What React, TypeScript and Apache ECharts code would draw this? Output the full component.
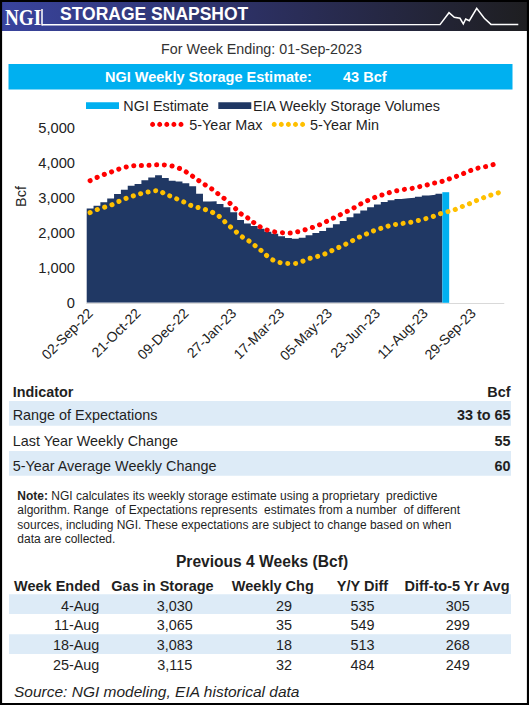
import React, { useEffect, useRef } from "react";
import * as echarts from "echarts";

const FONT = "Liberation Sans, Arial, Helvetica, sans-serif";
const SERIF = "Liberation Serif, Times New Roman, serif";

const categories = [
  "02-Sep-22", "09-Sep-22", "16-Sep-22", "23-Sep-22", "30-Sep-22", "07-Oct-22", "14-Oct-22",
  "21-Oct-22", "28-Oct-22", "04-Nov-22", "11-Nov-22", "18-Nov-22", "25-Nov-22", "02-Dec-22",
  "09-Dec-22", "16-Dec-22", "23-Dec-22", "30-Dec-22", "06-Jan-23", "13-Jan-23", "20-Jan-23",
  "27-Jan-23", "03-Feb-23", "10-Feb-23", "17-Feb-23", "24-Feb-23", "03-Mar-23", "10-Mar-23",
  "17-Mar-23", "24-Mar-23", "31-Mar-23", "07-Apr-23", "14-Apr-23", "21-Apr-23", "28-Apr-23",
  "05-May-23", "12-May-23", "19-May-23", "26-May-23", "02-Jun-23", "09-Jun-23", "16-Jun-23",
  "23-Jun-23", "30-Jun-23", "07-Jul-23", "14-Jul-23", "21-Jul-23", "28-Jul-23", "04-Aug-23",
  "11-Aug-23", "18-Aug-23", "25-Aug-23", "01-Sep-23", "08-Sep-23", "15-Sep-23", "22-Sep-23",
  "29-Sep-23", "06-Oct-23", "13-Oct-23", "20-Oct-23", "27-Oct-23",
];

const eiaStorage = [
  2694, 2771, 2874, 2977, 3106, 3231, 3342, 3394, 3501, 3580, 3644, 3564, 3483, 3462, 3412, 3325,
  3112, 2891, 2902, 2820, 2729, 2583, 2366, 2266, 2195, 2114, 2030, 1972, 1900, 1853, 1830, 1855,
  1930, 1994, 2048, 2141, 2240, 2336, 2446, 2550, 2634, 2729, 2805, 2877, 2926, 2967, 2983, 3001,
  3030, 3065, 3083, 3115,
];

const ngiEstimateWeek = "01-Sep-23";
const ngiEstimateValue = 3158;

const fiveYearMax = [
  3487, 3580, 3660, 3730, 3805, 3865, 3905, 3923, 3923, 3930, 3943, 3935, 3905, 3843, 3742, 3612,
  3475, 3346, 3223, 3067, 2920, 2738, 2550, 2430, 2280, 2155, 2070, 2025, 2005, 1990, 2015, 2062,
  2120, 2185, 2268, 2366, 2461, 2557, 2651, 2757, 2870, 2954, 3040, 3097, 3160, 3205, 3240, 3265,
  3310, 3351, 3410, 3440, 3505, 3570, 3645, 3725, 3805, 3860, 3895, 3948, 3990,
];

const fiveYearMin = [
  2576, 2660, 2722, 2785, 2877, 2963, 3033, 3094, 3144, 3185, 3205, 3095, 3031, 2935, 2855, 2760,
  2710, 2650, 2570, 2450, 2255, 2090, 1915, 1795, 1650, 1495, 1320, 1195, 1140, 1123, 1125, 1183,
  1262, 1310, 1370, 1460, 1550, 1640, 1735, 1845, 1930, 2020, 2095, 2155, 2214, 2248, 2275, 2305,
  2350, 2400, 2455, 2530, 2590, 2635, 2720, 2790, 2880, 2960, 3035, 3100, 3160,
];

const indicatorRows = [
  ["Range of Expectations", "33 to 65"],
  ["Last Year Weekly Change", "55"],
  ["5-Year Average Weekly Change", "60"],
];

const noteLines = [
  "{b|Note:} NGI calculates its weekly storage estimate using a proprietary  predictive",
  "algorithm. Range  of Expectations represents  estimates from a number  of different",
  "sources, including NGI. These expectations are subject to change based on when",
  "data are collected.",
];

const prevHeaders = ["Week Ended", "Gas in Storage", "Weekly Chg", "Y/Y Diff", "Diff-to-5 Yr Avg"];
const weekEnded = ["4-Aug", "11-Aug", "18-Aug", "25-Aug"];
const gasInStorage = ["3,030", "3,065", "3,083", "3,115"];
const weeklyChg = ["29", "35", "18", "32"];
const yyDiff = ["535", "549", "513", "484"];
const diffTo5Yr = ["305", "299", "268", "249"];

function txt(x: number, y: number, text: string, o: any = {}) {
  const align = o.align || "left";
  return {
    type: "text",
    x,
    y,
    silent: true,
    z: 100,
    scaleX: o.scaleX || 1,
    rotation: o.rotation || 0,
    style: {
      text,
      fill: o.fill || "#1f1f1f",
      fontSize: o.fontSize || 14.4,
      fontWeight: o.fontWeight || "normal",
      fontStyle: o.fontStyle || "normal",
      fontFamily: o.fontFamily || FONT,
      align,
      textAlign: align,
      verticalAlign: "middle",
      textVerticalAlign: "middle",
      rich: o.rich,
    },
  };
}

function rect(x: number, y: number, w: number, h: number, fill: any) {
  return { type: "rect", silent: true, z: 90, shape: { x, y, width: w, height: h }, style: { fill } };
}

export default function App() {
  const ref = useRef<HTMLDivElement>(null);

  useEffect(() => {
    if (!ref.current) return;
    const chart = echarts.init(ref.current, null, { renderer: "svg" });

    // EIA weekly volumes: contiguous columns, each spanning its week's band [i, i+1]
    const eiaSteps: number[][] = eiaStorage.map((v, i) => [i, v]);
    eiaSteps.push([eiaStorage.length, eiaStorage[eiaStorage.length - 1]]);
    const ngiData = categories.map((c) => (c === ngiEstimateWeek ? ngiEstimateValue : "-"));

    const graphics: any[] = [];
    // header
    graphics.push(
      rect(0, 0, 529, 31, {
        type: "linear",
        x: 0,
        y: 0,
        x2: 1,
        y2: 0,
        colorStops: [
          { offset: 0, color: "#39449E" },
          { offset: 0.45, color: "#2D3166" },
          { offset: 1, color: "#1E1E20" },
        ],
      })
    );
    graphics.push(txt(5, 17.5, "NGI", { fill: "#fff", fontSize: 24, fontWeight: "bold", fontFamily: SERIF, scaleX: 0.8 }));
    graphics.push({
      type: "line",
      silent: true,
      z: 100,
      shape: { x1: 42, y1: 9, x2: 42, y2: 25.5 },
      style: { stroke: "#fff", lineWidth: 1.5 },
    });
    graphics.push({
      type: "polyline",
      silent: true,
      z: 100,
      shape: {
        points: [
          [42, 24.8], [440, 24.6], [449, 12.7], [454.3, 17.3], [460, 18.3], [463.3, 24],
          [465.7, 19], [469.3, 20.7], [476.7, 8.3], [484.3, 18.3], [491, 24.4], [518.3, 24.4],
        ],
      },
      style: { stroke: "#fff", lineWidth: 1.5, fill: null },
    });
    graphics.push(txt(60, 14.2, "STORAGE SNAPSHOT", { fill: "#fff", fontSize: 17.5, fontWeight: "bold" }));

    graphics.push(txt(261.5, 49, "For Week Ending: 01-Sep-2023", { align: "center", fontSize: 14.3, fill: "#333" }));
    graphics.push(rect(8.5, 64, 504, 25.5, "#00B0F0"));
    graphics.push(txt(105, 76.5, "NGI Weekly Storage Estimate:", { fill: "#fff", fontSize: 14.5, fontWeight: "bold" }));
    graphics.push(txt(343, 76.5, "43 Bcf", { fill: "#fff", fontSize: 14.5, fontWeight: "bold" }));

    // legend
    graphics.push(rect(86, 102.3, 33, 6.8, "#00B0F0"));
    graphics.push(txt(123.3, 105.6, "NGI Estimate"));
    graphics.push(rect(218.3, 102.3, 33, 6.8, "#203864"));
    graphics.push(txt(253, 105.6, "EIA Weekly Storage Volumes"));
    for (let k = 0; k < 5; k++) {
      graphics.push({ type: "circle", silent: true, z: 100, shape: { cx: 152.6 + 7.1 * k, cy: 124.4, r: 2.5 }, style: { fill: "#FF0000" } });
      graphics.push({ type: "circle", silent: true, z: 100, shape: { cx: 274.2 + 7.1 * k, cy: 124.4, r: 2.5 }, style: { fill: "#FFC000" } });
    }
    graphics.push(txt(189.3, 124.6, "5-Year Max"));
    graphics.push(txt(310, 124.6, "5-Year Min"));

    // y-axis title
    graphics.push(txt(20.5, 196.5, "Bcf", { align: "center", rotation: Math.PI / 2 }));

    // indicator table
    graphics.push(txt(12.7, 391.5, "Indicator", { fontWeight: "bold" }));
    graphics.push(txt(510.5, 391.5, "Bcf", { fontWeight: "bold", align: "right" }));
    const indY = [415.3, 440.7, 466];
    graphics.push(rect(9, 401, 502, 24.7, "#DDEBF7"));
    graphics.push(rect(9, 451, 502, 24.7, "#DDEBF7"));
    indicatorRows.forEach((r, i) => {
      graphics.push(txt(12.7, indY[i], r[0]));
      graphics.push(txt(510.5, indY[i], r[1], { fontWeight: "bold", align: "right" }));
    });

    // note
    const noteY = [495.7, 510.2, 524.6, 539.3];
    noteLines.forEach((l, i) => {
      graphics.push(txt(17.3, noteY[i], l, { fontSize: 12, rich: { b: { fontWeight: "bold", fontSize: 12, fontFamily: FONT, fill: "#1f1f1f" } } }));
    });

    // previous 4 weeks
    graphics.push(txt(262, 561.8, "Previous 4 Weeks (Bcf)", { align: "center", fontSize: 15.6, fontWeight: "bold" }));
    const hdrX = [100, 162.5, 272.8, 362.5, 457];
    const hdrAlign = ["right", "center", "center", "center", "center"];
    prevHeaders.forEach((h, i) => {
      graphics.push(txt(hdrX[i], 586, h, { fontWeight: "bold", fontSize: 14.5, align: hdrAlign[i] }));
    });
    graphics.push(rect(9, 594.3, 502, 19.7, "#DDEBF7"));
    graphics.push(rect(9, 634.3, 502, 19.7, "#DDEBF7"));
    const rowY = [605.5, 625.2, 645.2, 664.6];
    const colX = [99.3, 174.7, 284, 362.5, 457.7];
    weekEnded.forEach((w, i) => {
      graphics.push(txt(colX[0], rowY[i], w, { align: "right" }));
      graphics.push(txt(colX[1], rowY[i], gasInStorage[i], { align: "center" }));
      graphics.push(txt(colX[2], rowY[i], weeklyChg[i], { align: "center" }));
      graphics.push(txt(colX[3], rowY[i], yyDiff[i], { align: "center" }));
      graphics.push(txt(colX[4], rowY[i], diffTo5Yr[i], { align: "center" }));
    });
    graphics.push(txt(14, 691.5, "Source: NGI modeling, EIA historical data", { fontSize: 15.5, fontStyle: "italic" }));

    // outer border
    graphics.push({
      type: "rect",
      silent: true,
      z: 120,
      shape: { x: 1, y: 1, width: 527, height: 703 },
      style: { fill: null, stroke: "#000", lineWidth: 2.2 },
    });

    const option: any = {
      animation: false,
      backgroundColor: "#ffffff",
      grid: { left: 86.7, right: 25.1, top: 127.7, bottom: 402.2, containLabel: false, outerBoundsMode: "none" },
      xAxis: [
        {
          type: "category",
          data: categories,
          boundaryGap: true,
          axisTick: { show: false },
          axisLine: { show: true, lineStyle: { color: "#D9D9D9", width: 1 } },
          axisLabel: {
            interval: 6,
            rotate: 45,
            margin: 8,
            fontSize: 14,
            color: "#222",
            fontFamily: FONT,
          },
          splitLine: { show: false },
          z: 3,
        },
        {
          type: "value",
          min: 0,
          max: categories.length,
          show: false,
          splitLine: { show: false },
        },
      ],
      yAxis: {
        type: "value",
        min: 0,
        max: 5000,
        interval: 1000,
        axisLine: { show: false },
        axisTick: { show: false },
        splitLine: { show: false },
        axisLabel: {
          margin: 11.7,
          fontSize: 14.7,
          color: "#222",
          fontFamily: FONT,
          formatter: (v: number) => v.toLocaleString("en-US"),
        },
      },
      series: [
        {
          name: "EIA Weekly Storage Volumes",
          type: "line",
          xAxisIndex: 1,
          step: "end",
          data: eiaSteps,
          symbol: "none",
          showSymbol: false,
          silent: true,
          z: 2,
          lineStyle: { width: 0, opacity: 0 },
          areaStyle: { color: "#203864", opacity: 1 },
        },
        {
          name: "NGI Estimate",
          type: "bar",
          xAxisIndex: 0,
          data: ngiData,
          barCategoryGap: "0%",
          barGap: "0%",
          silent: true,
          z: 2,
          itemStyle: { color: "#00B0F0" },
        },
        {
          name: "5-Year Max",
          type: "line",
          xAxisIndex: 0,
          data: fiveYearMax,
          smooth: 0.4,
          symbol: "none",
          showSymbol: false,
          silent: true,
          z: 5,
          lineStyle: { color: "#FF0000", width: 5, type: [0.1, 7.6], cap: "round" },
        },
        {
          name: "5-Year Min",
          type: "line",
          xAxisIndex: 0,
          data: fiveYearMin,
          smooth: 0.4,
          symbol: "none",
          showSymbol: false,
          silent: true,
          z: 5,
          lineStyle: { color: "#FFC000", width: 5, type: [0.1, 7.6], cap: "round" },
        },
      ],
      graphic: { elements: graphics },
    };

    chart.setOption(option);
    return () => chart.dispose();
  }, []);

  return <div ref={ref} style={{ position: "absolute", left: 0, top: 0, width: 529, height: 705 }} />;
}
